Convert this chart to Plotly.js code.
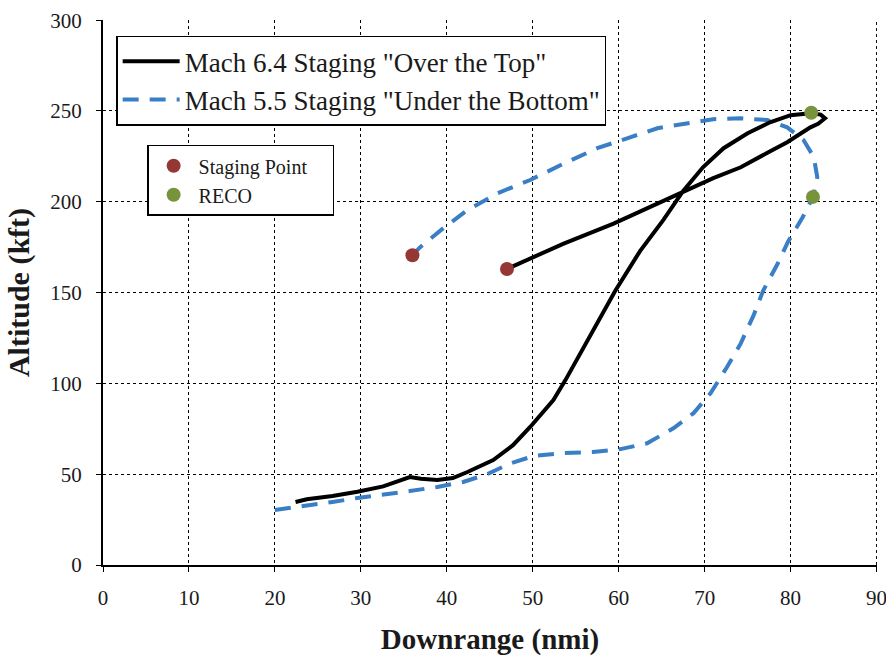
<!DOCTYPE html>
<html>
<head>
<meta charset="utf-8">
<script src="https://cdn.plot.ly/plotly-3.0.1.min.js"></script>
<style>html,body{margin:0;padding:0;background:#fff;}#chart{width:886px;height:656px;}</style>
</head>
<body>
<div id="chart"></div>
<script>
// Mach 6.4 "Over the Top" trajectory
const overX = [22.4, 23.7, 26.7, 29.6, 32.6, 35.0, 35.7, 37.0, 38.9, 40.7, 42.4, 45.4, 47.7, 49.7, 52.4, 53.8, 56.5, 59.6, 62.5, 65.2, 67.5, 69.8, 72.2, 75.0, 77.6, 80.0, 82.3, 83.5, 84.0, 83.2, 82.3, 79.6, 77.3, 74.2, 71.0, 67.2, 63.3, 59.4, 53.6, 47.7, 47.0];
const overY = [34.7, 36.2, 38.0, 40.3, 43.3, 47.5, 48.4, 47.5, 46.8, 47.9, 51.2, 57.8, 66.0, 76.0, 90.8, 101.8, 125.0, 151.0, 173.0, 190.0, 206.0, 219.0, 229.5, 237.7, 243.8, 247.7, 248.7, 248.0, 246.0, 243.0, 241.0, 232.8, 227.0, 219.0, 213.0, 205.0, 196.5, 188.0, 177.0, 165.0, 163.0];
// Mach 5.5 "Under the Bottom" trajectory
const underX = [20.0, 23.7, 26.7, 29.6, 32.6, 35.7, 38.9, 41.9, 44.7, 47.4, 50.1, 53.5, 57.0, 60.2, 63.3, 66.4, 68.7, 70.7, 72.6, 74.2, 75.7, 76.8, 78.5, 79.7, 81.4, 82.6, 83.1, 82.7, 81.5, 79.6, 77.3, 74.2, 71.0, 68.0, 64.5, 61.4, 57.5, 53.6, 49.7, 45.9, 42.4, 39.6, 36.9, 36.0];
const underY = [30.3, 32.5, 34.7, 36.9, 38.5, 40.7, 43.0, 45.7, 50.0, 56.0, 60.0, 61.6, 62.2, 63.8, 67.0, 75.4, 83.6, 94.7, 109.0, 122.0, 137.6, 151.0, 166.0, 178.0, 191.5, 202.7, 213.5, 224.6, 234.0, 241.0, 245.0, 246.0, 245.5, 243.0, 240.5, 235.6, 229.5, 221.0, 212.0, 204.7, 195.4, 185.5, 175.0, 170.6];
// Event points
const stagingX = [36.0, 47.0];
const stagingY = [170.6, 163.0];
const recoX = [82.6, 82.4];
const recoY = [202.7, 249.0];

const xTicks = [0, 10, 20, 30, 40, 50, 60, 70, 80, 90];
const yTicks = [0, 50, 100, 150, 200, 250, 300];
const xMax = xTicks[xTicks.length - 1];

const serif = 'Liberation Serif, Times New Roman, serif';
const pad = n => '\u00a0'.repeat(n);

const traces = [
  {x: underX, y: underY, mode: 'lines', name: 'Mach 5.5 Staging "Under the Bottom"',
   line: {color: '#3A7EC6', width: 4, dash: '16px,11px'}, legend: 'legend', legendrank: 2},
  {x: overX, y: overY, mode: 'lines', name: 'Mach 6.4 Staging "Over the Top"',
   line: {color: '#000000', width: 4}, legend: 'legend', legendrank: 1},
  {x: stagingX, y: stagingY, mode: 'markers', name: 'Staging Point' + pad(4),
   marker: {color: '#953735', size: 14}, legend: 'legend2', legendrank: 1},
  {x: recoX, y: recoY, mode: 'markers', name: 'RECO',
   marker: {color: '#77933C', size: 14}, legend: 'legend2', legendrank: 2}
];

const layout = {
  width: 886, height: 656,
  margin: {l: 103, r: 9, t: 20, b: 91},
  paper_bgcolor: '#ffffff', plot_bgcolor: '#ffffff',
  font: {family: serif, color: '#1a1a1a'},
  showlegend: true,
  xaxis: {
    range: [0, 90.05], tickvals: xTicks, ticktext: xTicks.map(String),
    showgrid: true, gridcolor: '#000000', griddash: 'dot', gridwidth: 1,
    showline: true, linecolor: '#000000', linewidth: 2,
    ticks: 'outside', ticklen: 5, tickcolor: '#000000',
    ticklabelstandoff: 8, ticklabeloverflow: 'allow',
    tickfont: {family: serif, size: 21, color: '#1a1a1a'},
    zeroline: false,
    title: {text: '<b>Downrange (nmi)</b>', font: {family: serif, size: 29, color: '#1a1a1a'}, standoff: 22}
  },
  yaxis: {
    range: [0, 300.1], tickvals: yTicks, ticktext: yTicks.map(String),
    showgrid: true, gridcolor: '#000000', griddash: 'dot', gridwidth: 1,
    showline: true, linecolor: '#000000', linewidth: 2,
    ticks: 'outside', ticklen: 5, tickcolor: '#000000',
    ticklabelstandoff: 10, ticklabeloverflow: 'allow',
    tickfont: {family: serif, size: 21, color: '#1a1a1a'},
    zeroline: false,
    title: {text: '<b>Altitude (kft)</b>', font: {family: serif, size: 30, color: '#1a1a1a'}, standoff: 12}
  },
  shapes: [
    {type: 'line', xref: 'x', yref: 'paper', x0: xMax, x1: xMax, y0: 0, y1: 1,
     line: {color: '#000000', width: 1, dash: 'dot'}, layer: 'below'}
  ],
  legend: {
    x: 0.017, y: 0.971, xanchor: 'left', yanchor: 'top',
    bgcolor: '#ffffff', bordercolor: '#000000', borderwidth: 1.5,
    font: {family: serif, size: 27, color: '#1a1a1a'},
    traceorder: 'normal', itemwidth: 57
  },
  legend2: {
    x: 0.057, y: 0.771, xanchor: 'left', yanchor: 'top',
    bgcolor: '#ffffff', bordercolor: '#000000', borderwidth: 1.5,
    font: {family: serif, size: 20, color: '#1a1a1a'},
    traceorder: 'normal', itemwidth: 40
  }
};

Plotly.newPlot('chart', traces, layout, {displayModeBar: false, staticPlot: true});
</script>
</body>
</html>
